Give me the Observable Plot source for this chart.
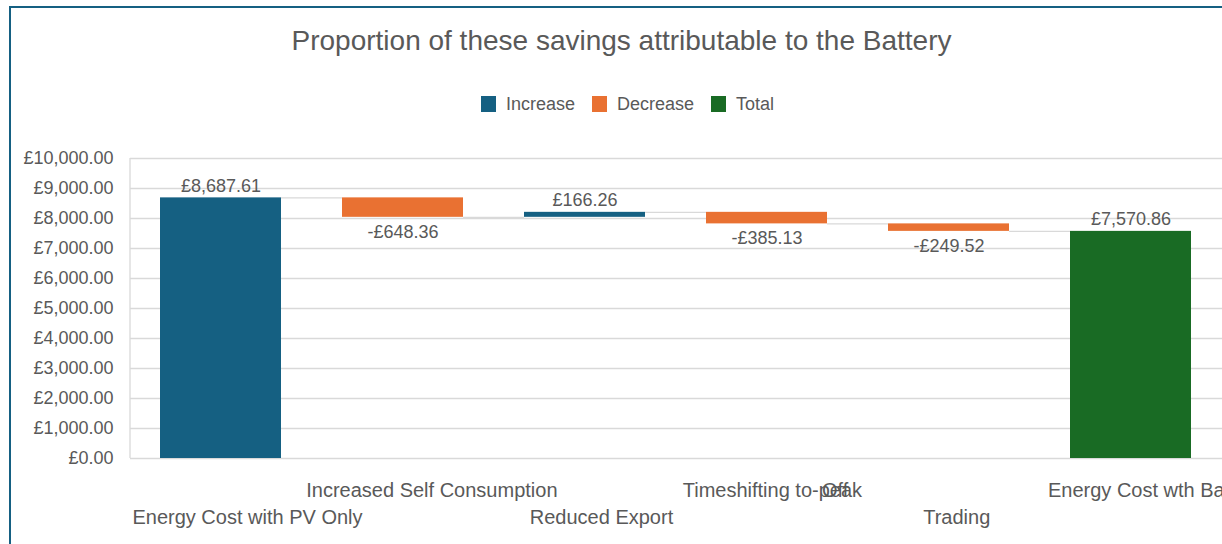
<!DOCTYPE html>
<html>
<head>
<meta charset="utf-8">
<script src="https://cdn.jsdelivr.net/npm/d3@7"></script>
<script src="https://cdn.jsdelivr.net/npm/@observablehq/plot@0.6"></script>
<style>
  html, body { margin: 0; padding: 0; background: #fff; overflow: hidden; }
  #wrap { position: relative; width: 1222px; height: 544px; overflow: hidden; background: #fff; }
  #frame { position: absolute; left: 9px; top: 6px; width: 1400px; height: 700px; box-sizing: border-box;
           border-left: 2px solid #156082; border-top: 2px solid #156082; z-index: 5; pointer-events: none; }
  #title { position: absolute; left: 0; top: 24px; width: 1243px; text-align: center; color: #595959;
           white-space: nowrap; line-height: 34px; }
  #legend { position: absolute; left: 0; top: 93px; width: 1255px; display: flex; justify-content: center;
            align-items: center; color: #595959; line-height: 22px; white-space: nowrap; }
  .item { display: flex; align-items: center; margin: 0 8.5px; }
  .sw { width: 15px; height: 16px; margin-right: 10px; }
  #chart { position: absolute; left: 0; top: 130px; }
</style>
</head>
<body>
<div id="wrap">
  <div id="title"></div>
  <div id="legend"></div>
  <div id="chart"></div>
  <div id="frame"></div>
</div>
<script>
// ---------------- data ----------------
const titleText = "Proportion of these savings attributable to the Battery";
const categories = ["Energy Cost with PV Only", "Increased Self Consumption", "Reduced Export",
                    "Timeshifting to Off-peak", "Trading", "Energy Cost wth Battery"];
const values = [8687.61, -648.36, 166.26, -385.13, -249.52, 7570.86];
const kinds = ["Increase", "Decrease", "Increase", "Decrease", "Decrease", "Total"];
const legendLabels = ["Increase", "Decrease", "Total"];
const legendColors = ["#156082", "#E97132", "#196B24"];
const yTicks = [0, 1000, 2000, 3000, 4000, 5000, 6000, 7000, 8000, 9000, 10000];

// ---------------- fonts ----------------
function hasFont(name) {
  const c = document.createElement("canvas").getContext("2d");
  c.font = "40px monospace";
  const a = c.measureText("abcdefghijklmnop").width;
  c.font = `40px "${name}", monospace`;
  return c.measureText("abcdefghijklmnop").width !== a;
}
const narrow = hasFont("Liberation Sans Narrow");
const headFont = narrow ? '"Liberation Sans Narrow", "Liberation Sans", sans-serif' : '"Liberation Sans", sans-serif';
const titleSize = narrow ? 34 : 28;
const legendSize = narrow ? 22 : 18;
const bodyFont = '"Liberation Sans", Arial, sans-serif';
const tickSize = 18;
const catSize = 20;
const grey = "#595959";

// ---------------- title & legend ----------------
const t = document.getElementById("title");
t.textContent = titleText;
t.style.fontFamily = headFont;
t.style.fontSize = titleSize + "px";

const lg = d3.select("#legend").style("font-family", headFont).style("font-size", legendSize + "px");
legendLabels.forEach((l, i) => {
  const it = lg.append("div").attr("class", "item");
  it.append("div").attr("class", "sw").style("background", legendColors[i]);
  it.append("span").text(l);
});

// ---------------- waterfall rows ----------------
let run = 0;
const rows = categories.map((cat, i) => {
  let y1, y2;
  if (kinds[i] === "Total") { y1 = 0; y2 = values[i]; run = values[i]; }
  else { y1 = run; y2 = run + values[i]; run = y2; }
  return { cat, kind: kinds[i], value: values[i], y1, y2, end: run, i };
});
const conns = rows.slice(0, -1).map((r, i) => ({ from: r.cat, to: rows[i + 1].cat, level: r.end }));

const fmt = d3.format(",.2f");
const money = v => (v < 0 ? "-£" : "£") + fmt(Math.abs(v));

// ---------------- layout ----------------
const W = 1222, H = 414, mL = 130, mR = 0, mT = 28, mB = 86;
const padIn = 0.335, padOut = padIn / 2;
const step = (W - mL - mR) / (categories.length - padIn + 2 * padOut);
const bw = step * (1 - padIn);

// category labels (staggered, Excel-like placement)
const ctx = document.createElement("canvas").getContext("2d");
ctx.font = `${catSize}px "Liberation Sans", Arial, sans-serif`;
const catMarks = [];
rows.forEach((r, i) => {
  const dy = i % 2 === 0 ? 59 : 32;
  const common = { x: "cat", frameAnchor: "bottom", dy, lineAnchor: "middle", textAnchor: "start",
                   fill: grey, fontSize: catSize, fontFamily: bodyFont };
  const m = r.cat.match(/^(.*) (Off)(-.*)$/);
  if (m) {
    const wa = ctx.measureText(m[1]).width, wb = ctx.measureText(m[3]).width;
    const start = -0.47 * (wa + wb);
    catMarks.push(Plot.text([r], { ...common, text: () => m[1], dx: start }));
    catMarks.push(Plot.text([r], { ...common, text: () => m[3], dx: start + wa }));
    catMarks.push(Plot.text([r], { ...common, text: () => m[2], dx: start + wa + 0.5 * catSize }));
  } else {
    const w = ctx.measureText(r.cat).width;
    catMarks.push(Plot.text([r], { ...common, text: "cat", dx: -0.385 * w }));
  }
});

const chart = Plot.plot({
  width: W, height: H,
  marginLeft: mL, marginRight: mR, marginTop: mT, marginBottom: mB,
  style: { background: "transparent", color: grey, fontFamily: bodyFont, fontSize: tickSize + "px", overflow: "visible" },
  x: { domain: categories, paddingInner: padIn, paddingOuter: padOut, axis: null },
  y: { domain: [0, 10000], label: null },
  color: { domain: legendLabels, range: legendColors },
  marks: [
    Plot.gridY(yTicks, { stroke: "#d9d9d9", strokeOpacity: 1, strokeWidth: 1.3 }),
    Plot.axisY(yTicks, { tickSize: 0, tickPadding: 17, tickFormat: money, fontSize: tickSize, fill: grey, label: null }),
    Plot.ruleY(conns, { y: "level", x1: "from", x2: "to", insetLeft: bw, insetRight: bw, stroke: "#d9d9d9", strokeWidth: 1.3 }),
    Plot.barY(rows, { x: "cat", y1: "y1", y2: "y2", fill: "kind", inset: 0 }),
    Plot.text(rows.filter(r => r.kind !== "Decrease"), { x: "cat", y: d => Math.max(d.y1, d.y2), text: d => money(d.value),
      dy: -12, fill: grey, fontSize: tickSize, lineAnchor: "middle" }),
    Plot.text(rows.filter(r => r.kind === "Decrease"), { x: "cat", y: d => Math.min(d.y1, d.y2), text: d => money(d.value),
      dy: 14.5, fill: grey, fontSize: tickSize, lineAnchor: "middle" }),
    ...catMarks
  ]
});

// vertical axis line on the left of the plot area
const ys = chart.scale("y");
d3.select(chart).insert("line", ":first-child")
  .attr("x1", mL).attr("x2", mL)
  .attr("y1", ys.apply(10000)).attr("y2", ys.apply(0))
  .attr("stroke", "#d9d9d9").attr("stroke-width", 1.3);

document.getElementById("chart").appendChild(chart);
</script>
</body>
</html>
